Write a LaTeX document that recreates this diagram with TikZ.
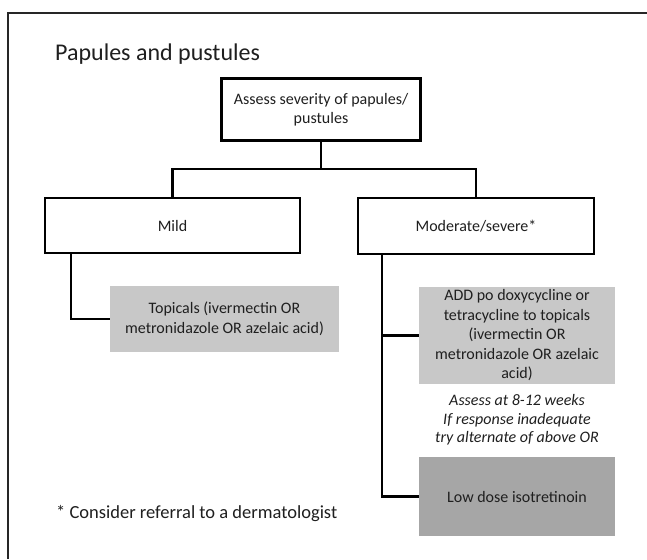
\documentclass[tikz,border=0pt]{standalone}
\usepackage{fontspec}
\setmainfont{Carlito}
\begin{document}
\begin{tikzpicture}[x=1pt,y=-1pt,
  txt/.style={font=\fontsize{16}{19.5}\selectfont, text=black!88, align=center, inner sep=0pt},
  wbox/.style={txt, draw=black, line width=2.2pt, fill=white},
  lbox/.style={txt, fill=boxlight},
  dbox/.style={txt, fill=boxdark},
  conn/.style={draw=black, line width=2.2pt}]
\definecolor{boxlight}{RGB}{200,200,200}
\definecolor{boxdark}{RGB}{166,166,166}
\useasboundingbox (0,0) rectangle (647,559);
\fill[white] (0,0) rectangle (647,559);
\draw[line width=1.2pt, black!85] (8,559) -- (8,13) -- (647,13);

\node[anchor=base west, inner sep=0pt, text=black!88, font=\fontsize{24}{28}\selectfont] (title) at (55,60.7) {Papules and pustules};

\node[wbox, minimum width=199pt, minimum height=62pt] (top) at (321,109.5) {Assess severity of papules/\\pustules};
\node[wbox, minimum width=255pt, minimum height=55pt] (mild) at (172.5,225.5) {Mild};
\node[wbox, minimum width=236pt, minimum height=56pt] (mod) at (476,226) {Moderate/severe*};
\node[lbox, minimum width=229pt, minimum height=66pt] (topic) at (224.5,319) {Topicals (ivermectin OR\\metronidazole OR azelaic acid)};
\node[lbox, minimum width=196pt, minimum height=97pt] (add) at (517,335.5) {ADD po doxycycline or\\tetracycline to topicals\\(ivermectin OR\\metronidazole OR azelaic\\acid)};
\node[txt, font=\fontsize{16}{18.5}\selectfont\itshape] (assess) at (517,420) {Assess at 8-12 weeks\\If response inadequate\\try alternate of above OR};
\node[dbox, minimum width=196pt, minimum height=79pt] (low) at (517,496.5) {Low dose isotretinoin};

\node[anchor=base west, inner sep=0pt, text=black!88, font=\fontsize{18.5}{22}\selectfont] (foot) at (56,518) {* Consider referral to a dermatologist};

\coordinate (j) at (321,169);
\coordinate (ml) at ([xshift=27pt]mild.south west);
\coordinate (ms) at ([xshift=25pt]mod.south west);
\draw[conn] (top.south) -- (j);
\draw[conn] (mild.north) |- (j) -| (mod.north);
\draw[conn] (ml) |- (topic.west);
\draw[conn] (ms) |- (low.west);
\draw[conn] (add.west) -- (add.west -| ms);
\end{tikzpicture}
\end{document}
